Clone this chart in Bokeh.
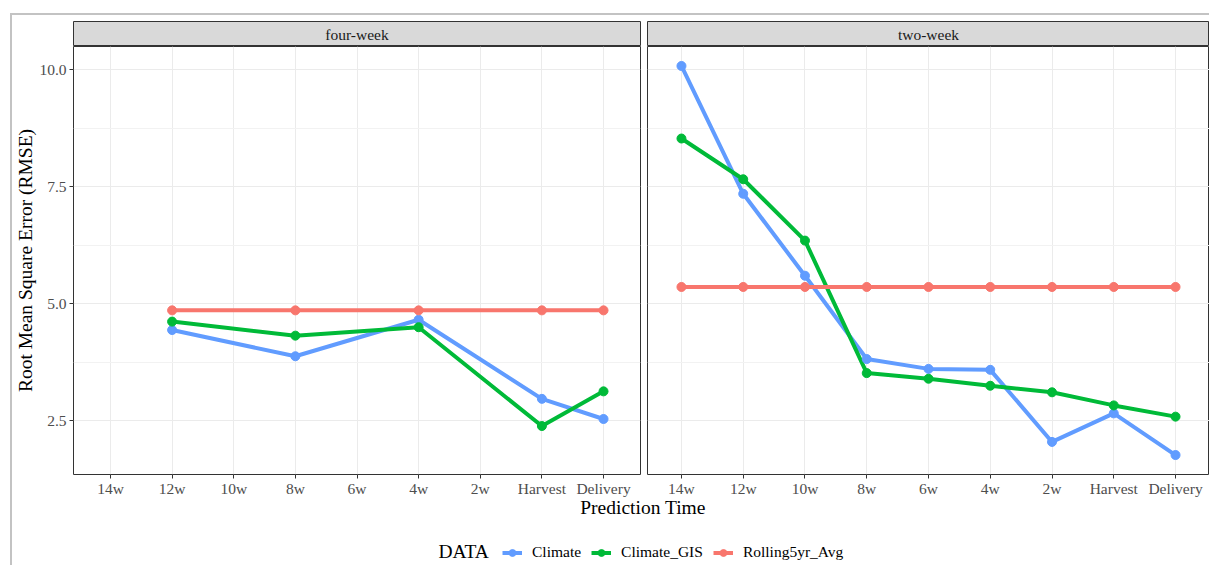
from bokeh.plotting import figure
from bokeh.layouts import row, column
from bokeh.models import (FactorRange, Range1d, FixedTicker, PrintfTickFormatter,
                          Label, Legend, LegendItem)
from bokeh.embed import file_html
from bokeh.resources import INLINE

FONT = "Liberation Serif"

# ---------------- data ----------------
prediction_times = ["14w", "12w", "10w", "8w", "6w", "4w", "2w", "Harvest", "Delivery"]
panel_names = ["four-week", "two-week"]
series_names = ["Climate", "Climate_GIS", "Rolling5yr_Avg"]
series_colors = ["#619CFF", "#00BA38", "#F8766D"]

four_week_times = ["12w", "8w", "4w", "Harvest", "Delivery"]
four_week_climate = [4.44, 3.88, 4.66, 2.97, 2.54]
four_week_climate_gis = [4.62, 4.32, 4.50, 2.39, 3.13]
four_week_rolling = [4.86, 4.86, 4.86, 4.86, 4.86]

two_week_times = ["14w", "12w", "10w", "8w", "6w", "4w", "2w", "Harvest", "Delivery"]
two_week_climate = [10.08, 7.35, 5.60, 3.82, 3.61, 3.59, 2.05, 2.66, 1.77]
two_week_climate_gis = [8.53, 7.66, 6.35, 3.52, 3.40, 3.25, 3.11, 2.83, 2.59]
two_week_rolling = [5.36, 5.36, 5.36, 5.36, 5.36, 5.36, 5.36, 5.36, 5.36]

y_ticks = [2.5, 5.0, 7.5, 10.0]
y_minor_ticks = [3.75, 6.25, 8.75]

# ggplot-like 5% expansion of the shared y scale
all_vals = (four_week_climate + four_week_climate_gis + four_week_rolling +
            two_week_climate + two_week_climate_gis + two_week_rolling)
y_min, y_max = min(all_vals), max(all_vals)
y_pad = 0.05 * (y_max - y_min)
Y_LO, Y_HI = y_min - y_pad, y_max + y_pad

FRAME_H = 429
GRID_COLOR = "#EBEBEB"
MINOR_GRID_COLOR = "#F2F2F2"
BORDER_COLOR = "#333333"
SMALL = "15.5px"
BIG = "19.5px"


def make_strip(name, width, left, right):
    s = figure(width=width, height=31, x_range=Range1d(0, 1), y_range=Range1d(0, 1),
               title=None,
               x_axis_location=None, y_axis_location=None, toolbar_location=None,
               output_backend="svg", min_border=0, min_border_left=left,
               min_border_right=right, min_border_top=6, min_border_bottom=0,
               background_fill_color="#D9D9D9", border_fill_color="white",
               outline_line_color=BORDER_COLOR, outline_line_width=1)
    s.xgrid.visible = False
    s.ygrid.visible = False
    s.add_layout(Label(x=0.5, y=0.5, text=name, text_align="center",
                       text_baseline="middle", text_font=FONT,
                       text_font_size=SMALL, text_color="#1A1A1A"))
    return s


def make_panel(times, values_list, width, left, right, padding, show_y):
    p = figure(width=width, height=FRAME_H + 24, title=None,
               x_range=FactorRange(factors=prediction_times, range_padding=padding,
                                   range_padding_units="absolute"),
               y_range=Range1d(Y_LO, Y_HI),
               y_axis_location="left" if show_y else None,
               toolbar_location=None, output_backend="svg",
               min_border=0, min_border_left=left, min_border_right=right,
               min_border_top=0, min_border_bottom=24,
               background_fill_color="white", border_fill_color="white",
               outline_line_color=BORDER_COLOR, outline_line_width=1)
    yt = FixedTicker(ticks=y_ticks, minor_ticks=y_minor_ticks)
    p.ygrid.ticker = yt
    for g in (p.xgrid, p.ygrid):
        g.grid_line_color = GRID_COLOR
        g.grid_line_width = 1
    p.ygrid.minor_grid_line_color = MINOR_GRID_COLOR
    p.ygrid.minor_grid_line_width = 1

    xa = p.xaxis[0]
    xa.axis_line_color = None
    xa.major_tick_out = 4
    xa.major_tick_in = 0
    xa.major_tick_line_color = BORDER_COLOR
    xa.major_label_standoff = 1
    xa.major_label_text_font = FONT
    xa.major_label_text_font_size = SMALL
    xa.major_label_text_color = "#4D4D4D"

    if show_y:
        ya = p.yaxis[0]
        ya.ticker = yt
        ya.formatter = PrintfTickFormatter(format="%.1f")
        ya.axis_line_color = None
        ya.major_tick_out = 4
        ya.major_tick_in = 0
        ya.minor_tick_line_color = None
        ya.major_tick_line_color = BORDER_COLOR
        ya.major_label_standoff = 3
        ya.major_label_text_font = FONT
        ya.major_label_text_font_size = SMALL
        ya.major_label_text_color = "#4D4D4D"
        ya.axis_label = "Root Mean Square Error (RMSE)"
        ya.axis_label_text_font = FONT
        ya.axis_label_text_font_size = BIG
        ya.axis_label_text_font_style = "normal"
        ya.axis_label_text_color = "black"
        ya.axis_label_standoff = 0

    for vals, color in zip(values_list, series_colors):
        p.line(x=times, y=vals, line_color=color, line_width=4,
               line_join="round", line_cap="round")
    for vals, color in zip(values_list, series_colors):
        p.scatter(x=times, y=vals, size=9, fill_color=color, line_color=color)
    return p


LEFT_W, RIGHT_W = 631, 566

strip_l = make_strip(panel_names[0], LEFT_W, 60, 3)
panel_l = make_panel(four_week_times,
                     [four_week_climate, four_week_climate_gis, four_week_rolling],
                     LEFT_W, 60, 3, 0.1, True)

strip_r = make_strip(panel_names[1], RIGHT_W, 4, 0)
panel_r = make_panel(two_week_times,
                     [two_week_climate, two_week_climate_gis, two_week_rolling],
                     RIGHT_W, 4, 0, 0.05, False)

# ---------------- bottom: x-axis title + legend ----------------
# transparent strip that slightly overlaps the panels' bottom border
BOT_TOP = 489
bot = figure(width=LEFT_W + RIGHT_W, height=565 - BOT_TOP, x_range=Range1d(12, 1209),
             y_range=Range1d(565, BOT_TOP), x_axis_location=None, y_axis_location=None,
             title=None,
             toolbar_location=None, output_backend="svg", min_border=0,
             outline_line_color=None, background_fill_alpha=0,
             border_fill_alpha=0,
             styles={"margin-top": "-10px"})
bot.xgrid.visible = False
bot.ygrid.visible = False

bot.add_layout(Label(x=642.5, y=507, text="Prediction Time", text_align="center",
                     text_baseline="middle", text_font=FONT,
                     text_font_size=BIG, text_color="black"))
bot.add_layout(Label(x=438, y=551, text="DATA", text_align="left",
                     text_baseline="middle", text_font=FONT,
                     text_font_size=BIG, text_color="black"))

nan = float("nan")
items = []
for name, color in zip(series_names, series_colors):
    r1 = bot.line(x=[nan, nan], y=[nan, nan], line_color=color, line_width=4)
    r2 = bot.scatter(x=[nan], y=[nan], size=9, fill_color=color, line_color=color)
    items.append(LegendItem(label=name, renderers=[r1, r2]))

legend = Legend(items=items, orientation="horizontal", location=(490, 4),
                glyph_width=20, glyph_height=17, label_height=17,
                label_standoff=10, spacing=10, padding=0, margin=0,
                border_line_color=None, background_fill_alpha=0,
                label_text_font=FONT, label_text_font_size=SMALL,
                label_text_color="black")
bot.add_layout(legend)

layout = column(
    row(column(strip_l, panel_l), column(strip_r, panel_r)),
    bot,
    styles={"border-top": "2px solid #C3C3C3", "border-left": "2px solid #C3C3C3",
            "margin-left": "10px", "margin-top": "13px"},
)

open("out.html", "w").write(file_html(layout, INLINE))
